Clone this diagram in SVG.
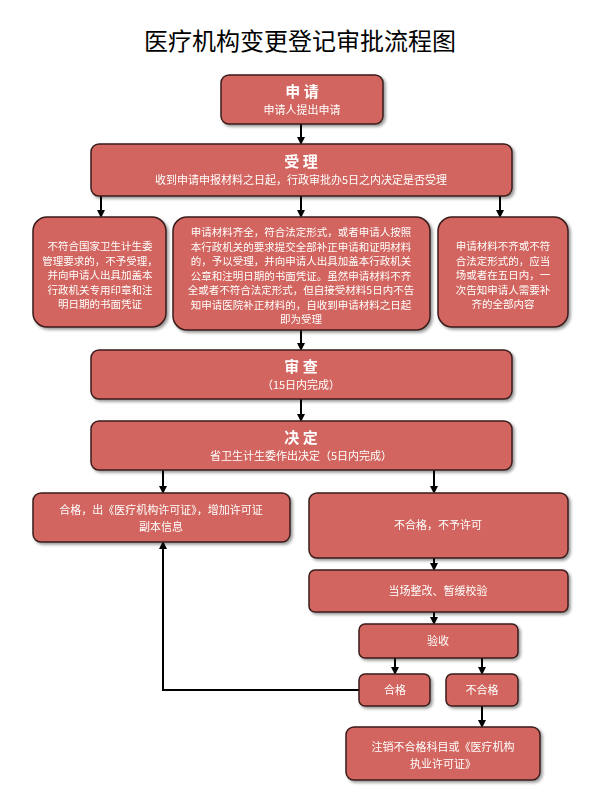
<svg xmlns="http://www.w3.org/2000/svg" width="600" height="800" viewBox="0 0 600 800">
<defs>
<style>
.b{fill:#d2655e;stroke:#3a1d1b;stroke-width:1.5}
.t{font-family:"Noto Sans CJK SC",sans-serif;fill:#fff;font-size:11px;text-anchor:middle}
.m{font-size:10.5px}
.h{font-size:15px;font-weight:bold}
.c{stroke:#000;stroke-width:2;fill:none;marker-end:url(#a)}
</style>
<marker id="a" markerWidth="8" markerHeight="8" refX="6" refY="4" orient="auto" markerUnits="userSpaceOnUse"><path d="M0,0 L8,4 L0,8z" fill="#000"/></marker>
<filter id="s"><feDropShadow dx="2" dy="2" stdDeviation="1.5" flood-opacity="0.4"/></filter>
</defs>
<rect width="600" height="800" fill="#fff"/>
<text x="300" y="50" font-family="Noto Sans CJK SC,sans-serif" font-size="24" text-anchor="middle" fill="#000">医疗机构变更登记审批流程图</text>
<g id="connectors">
<path class="c" d="M301,124 V143"/>
<path class="c" d="M101,196 V216"/>
<path class="c" d="M301,196 V216"/>
<path class="c" d="M500,196 V216"/>
<path class="c" d="M301,330 V349"/>
<path class="c" d="M301,399 V420"/>
<path class="c" d="M163,470 V492"/>
<path class="c" d="M434,470 V492"/>
<path class="c" d="M434,558 V569"/>
<path class="c" d="M434,612 V623"/>
<path class="c" d="M395,658 V673"/>
<path class="c" d="M482,658 V673"/>
<path class="c" d="M482,706 V726"/>
<path class="c" d="M359,690 H163 V543"/>
</g>
<g filter="url(#s)">
<g id="n1"><rect class="b" x="221" y="75" width="162" height="49" rx="8"/><text class="t h" x="302" y="97">申 请</text><text class="t" x="302" y="114">申请人提出申请</text></g>
<g id="n2"><rect class="b" x="91" y="144" width="421" height="52" rx="8"/><text class="t h" x="301" y="167">受 理</text><text class="t" x="301" y="184">收到申请申报材料之日起，行政审批办5日之内决定是否受理</text></g>
<g id="n3"><rect class="b" x="33" y="217" width="133" height="110" rx="14"/><text class="t m"><tspan x="100" y="250">不符合国家卫生计生委</tspan><tspan x="100" y="264.5">管理要求的，不予受理，</tspan><tspan x="100" y="279">并向申请人出具加盖本</tspan><tspan x="100" y="293.5">行政机关专用印章和注</tspan><tspan x="100" y="308">明日期的书面凭证</tspan></text></g>
<g id="n4"><rect class="b" x="173" y="217" width="257" height="113" rx="14"/><text class="t m"><tspan x="301" y="236">申请材料齐全，符合法定形式，或者申请人按照</tspan><tspan x="301" y="250.5">本行政机关的要求提交全部补正申请和证明材料</tspan><tspan x="301" y="265">的，予以受理，并向申请人出具加盖本行政机关</tspan><tspan x="301" y="279.5">公章和注明日期的书面凭证。虽然申请材料不齐</tspan><tspan x="301" y="294">全或者不符合法定形式，但自接受材料5日内不告</tspan><tspan x="301" y="308.5">知申请医院补正材料的，自收到申请材料之日起</tspan><tspan x="301" y="323">即为受理</tspan></text></g>
<g id="n5"><rect class="b" x="438" y="217" width="130" height="110" rx="14"/><text class="t m"><tspan x="503" y="250">申请材料不齐或不符</tspan><tspan x="503" y="264.5">合法定形式的，应当</tspan><tspan x="503" y="279">场或者在五日内，一</tspan><tspan x="503" y="293.5">次告知申请人需要补</tspan><tspan x="503" y="308">齐的全部内容</tspan></text></g>
<g id="n6"><rect class="b" x="91" y="350" width="421" height="49" rx="8"/><text class="t h" x="301" y="372">审 查</text><text class="t" x="301" y="389">（15日内完成）</text></g>
<g id="n7"><rect class="b" x="91" y="421" width="421" height="49" rx="8"/><text class="t h" x="301" y="443">决 定</text><text class="t" x="301" y="460">省卫生计生委作出决定（5日内完成）</text></g>
<g id="n8"><rect class="b" x="33" y="493" width="257" height="49" rx="8"/><text class="t" font-size="12"><tspan x="161" y="514">合格，出《医疗机构许可证》，增加许可证</tspan><tspan x="161" y="531">副本信息</tspan></text></g>
<g id="n9"><rect class="b" x="309" y="493" width="259" height="65" rx="8"/><text class="t" font-size="12" x="438" y="529">不合格，不予许可</text></g>
<g id="n10"><rect class="b" x="309" y="570" width="259" height="42" rx="6"/><text class="t" font-size="12" x="438" y="595">当场整改、暂缓校验</text></g>
<g id="n11"><rect class="b" x="359" y="624" width="159" height="34" rx="6"/><text class="t" font-size="12" x="438" y="645">验收</text></g>
<g id="n12"><rect class="b" x="359" y="674" width="71" height="32" rx="6"/><text class="t" font-size="12" x="395" y="694">合格</text></g>
<g id="n13"><rect class="b" x="446" y="674" width="72" height="32" rx="6"/><text class="t" font-size="12" x="482" y="694">不合格</text></g>
<g id="n14"><rect class="b" x="346" y="727" width="194" height="53" rx="8"/><text class="t" font-size="12"><tspan x="443" y="751">注销不合格科目或《医疗机构</tspan><tspan x="443" y="768">执业许可证》</tspan></text></g>
</g>
</svg>
